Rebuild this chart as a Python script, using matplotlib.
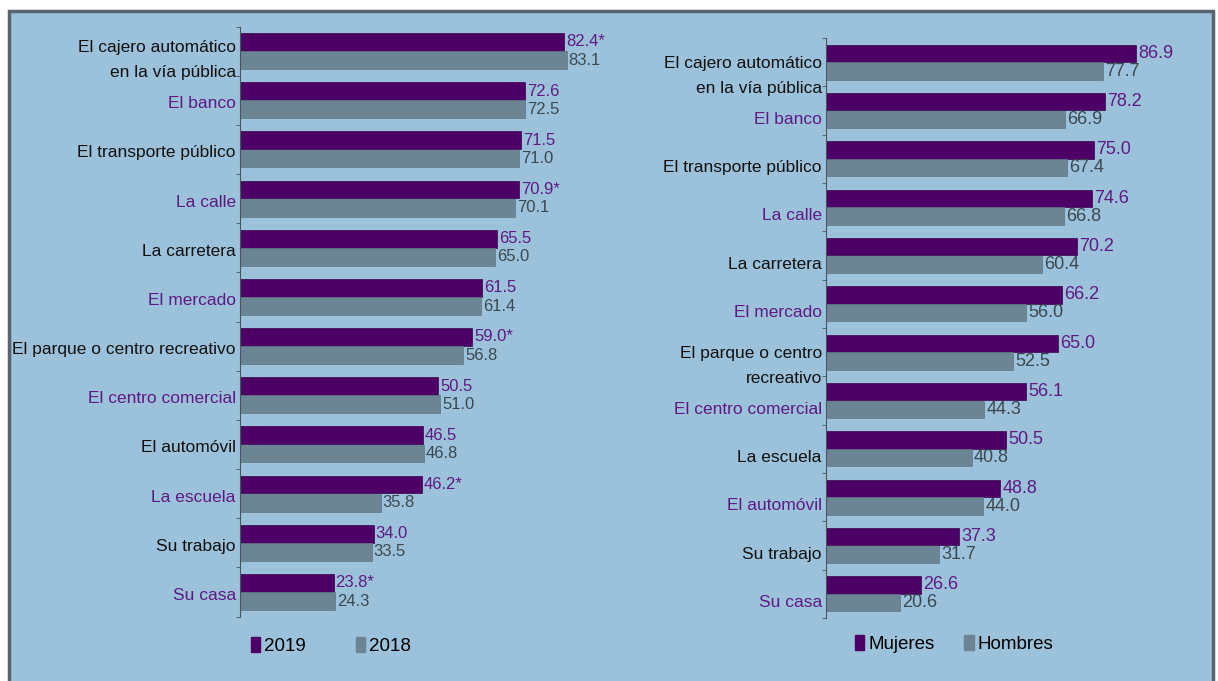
import matplotlib.pyplot as plt
import matplotlib.transforms as mtransforms
from matplotlib.patches import Patch, Rectangle
import numpy as np

plt.rcParams['font.family'] = ['Liberation Sans Narrow', 'Liberation Sans', 'DejaVu Sans']

# Datos: panel izquierdo (2019 vs 2018)
lugares_izq = ["El cajero automático\nen la vía pública", "El banco", "El transporte público",
               "La calle", "La carretera", "El mercado", "El parque o centro recreativo",
               "El centro comercial", "El automóvil", "La escuela", "Su trabajo", "Su casa"]
v2019 = [82.4, 72.6, 71.5, 70.9, 65.5, 61.5, 59.0, 50.5, 46.5, 46.2, 34.0, 23.8]
v2018 = [83.1, 72.5, 71.0, 70.1, 65.0, 61.4, 56.8, 51.0, 46.8, 35.8, 33.5, 24.3]
signif_2019 = [True, False, False, True, False, False, True, False, False, True, False, True]

# Datos: panel derecho (Mujeres vs Hombres)
lugares_der = ["El cajero automático\nen la vía pública", "El banco", "El transporte público",
               "La calle", "La carretera", "El mercado", "El parque o centro\nrecreativo",
               "El centro comercial", "La escuela", "El automóvil", "Su trabajo", "Su casa"]
mujeres = [86.9, 78.2, 75.0, 74.6, 70.2, 66.2, 65.0, 56.1, 50.5, 48.8, 37.3, 26.6]
hombres = [77.7, 66.9, 67.4, 66.8, 60.4, 56.0, 52.5, 44.3, 40.8, 44.0, 31.7, 20.6]

MORADO = '#4d0066'
GRIS = '#6b8595'
FONDO = '#9bc2da'
TXT_MORADO = '#5e1a82'
TXT_GRIS = '#3b4850'
W, H = 1218, 681

fig = plt.figure(figsize=(W / 100, H / 100), dpi=100)
fig.patch.set_facecolor('white')
fig.patches.append(Rectangle((9 / W, -0.01), (1213 - 9) / W, (H - 11) / H + 0.01,
                             transform=fig.transFigure, facecolor=FONDO,
                             edgecolor='#5a6470', lw=2.5, zorder=-10))


def panel(rect, labels, a, b, xmax, fs_val, marks=None, label_dy=0):
    ax = fig.add_axes([rect[0] / W, 1 - rect[3] / H, (rect[2] - rect[0]) / W,
                       (rect[3] - rect[1]) / H])
    ax.set_facecolor('none')
    n = len(labels)
    y = np.arange(n)
    h = 0.36
    ax.barh(y - 0.185, a, height=h, color=MORADO, edgecolor='#3a004d', lw=0.5)
    ax.barh(y + 0.185, b, height=h, color=GRIS, edgecolor='#5f7683', lw=0.5)
    ax.set_ylim(n - 0.5, -0.5)
    ax.set_xlim(0, xmax)
    for i in range(n):
        t = f"{a[i]:.1f}" + ("*" if marks is not None and marks[i] else "")
        ax.annotate(t, (a[i], i - 0.185), xytext=(1.5, 0), textcoords='offset points',
                    va='center', ha='left', fontsize=fs_val, color=TXT_MORADO)
        ax.annotate(f"{b[i]:.1f}", (b[i], i + 0.185), xytext=(1.5, 0), textcoords='offset points',
                    va='center', ha='left', fontsize=fs_val, color=TXT_GRIS)
    for s in ['top', 'right', 'bottom']:
        ax.spines[s].set_visible(False)
    ax.spines['left'].set_color('#4a5560')
    ax.set_xticks([])
    ax.set_yticks(y)
    ax.set_yticklabels(labels, fontsize=12.5, linespacing=1.9)
    ax.tick_params(axis='y', length=0, pad=3)
    ax.set_yticks(np.arange(n + 1) - 0.5, minor=True)
    ax.tick_params(axis='y', which='minor', length=3, color='#4a5560')
    off = mtransforms.ScaledTranslation(0, -label_dy / 100, fig.dpi_scale_trans)
    for i, lab in enumerate(ax.get_yticklabels()):
        lab.set_color('#111111' if i % 2 == 0 else TXT_MORADO)
        lab.set_transform(lab.get_transform() + off)
    return ax


ax1 = panel((240, 26.5, 600, 616.5), lugares_izq, v2019, v2018,
            360 / 3.93, 12, marks=signif_2019, label_dy=2)
ax2 = panel((826, 38, 1200, 618), lugares_der, mujeres, hombres,
            374 / 3.57, 13, label_dy=7)

ax1.legend(handles=[Patch(color=MORADO, label='2019'), Patch(color=GRIS, label='2018')],
           loc='center left', bbox_to_anchor=(251 / W, 35 / H), bbox_transform=fig.transFigure,
           ncol=2, frameon=False, fontsize=13.5, handlelength=0.5, handleheight=0.8,
           handletextpad=0.2, columnspacing=2.65, borderpad=0, borderaxespad=0)
ax2.legend(handles=[Patch(color=MORADO, label='Mujeres'), Patch(color=GRIS, label='Hombres')],
           loc='center left', bbox_to_anchor=(855 / W, 37 / H), bbox_transform=fig.transFigure,
           ncol=2, frameon=False, fontsize=13.5, handlelength=0.5, handleheight=0.8,
           handletextpad=0.2, columnspacing=1.6, borderpad=0, borderaxespad=0)

fig.savefig('out.png', dpi=100, facecolor=fig.get_facecolor())
